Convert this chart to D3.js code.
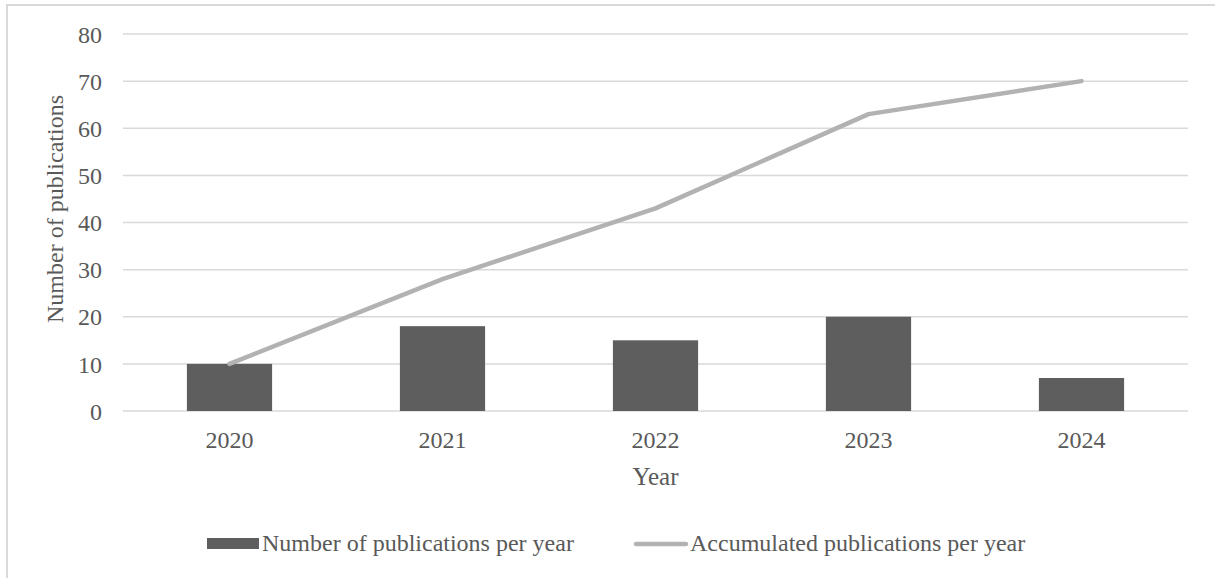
<!DOCTYPE html>
<html>
<head>
<meta charset="utf-8">
<script src="https://cdn.jsdelivr.net/npm/d3@7"></script>
<style>
  html, body { margin: 0; padding: 0; background: #ffffff; }
  svg { display: block; }
</style>
</head>
<body>
<svg id="chart" width="1215" height="578"></svg>
<script>
// ---- data ----
const years = ["2020", "2021", "2022", "2023", "2024"];
const perYear = [10, 18, 15, 20, 7];
const accumulated = [10, 28, 43, 63, 70];
const yTicks = [0, 10, 20, 30, 40, 50, 60, 70, 80];
const seriesNames = ["Number of publications per year", "Accumulated publications per year"];
const yTitle = "Number of publications";
const xTitle = "Year";

// ---- layout ----
const W = 1215, H = 578;
const plot = { left: 123, right: 1188, top: 34, bottom: 411 };
const font = "'Liberation Serif', 'Times New Roman', serif";
const textColor = "#595959";
const gridColor = "#d9d9d9";
const barColor = "#5e5e5e";
const lineColor = "#b2b2b2";

const svg = d3.select("#chart");
svg.append("rect").attr("width", W).attr("height", H).attr("fill", "#fff");

// chart frame (partially out of view)
svg.append("rect")
  .attr("x", 7).attr("y", 5)
  .attr("width", W + 20).attr("height", H + 20)
  .attr("fill", "none").attr("stroke", gridColor).attr("stroke-width", 2);

const x = d3.scaleBand().domain(years).range([plot.left, plot.right]).padding(0);
const y = d3.scaleLinear().domain([0, 80]).range([plot.bottom, plot.top]);

// gridlines
svg.append("g").selectAll("line").data(yTicks).join("line")
  .attr("x1", plot.left).attr("x2", plot.right)
  .attr("y1", d => y(d)).attr("y2", d => y(d))
  .attr("stroke", gridColor).attr("stroke-width", 1.5);

// y axis labels
const yAxis = d3.axisLeft(y).tickValues(yTicks).tickSize(0).tickPadding(0);
const gy = svg.append("g").attr("transform", `translate(${plot.left - 21},0)`).call(yAxis);
gy.select(".domain").remove();
gy.selectAll("text")
  .attr("font-family", font).attr("font-size", 24).attr("fill", textColor)
  .attr("dy", "0.34em");

// x axis labels
const xAxis = d3.axisBottom(x).tickSize(0).tickPadding(0);
const gx = svg.append("g").attr("transform", `translate(0,${plot.bottom})`).call(xAxis);
gx.select(".domain").remove();
gx.selectAll("text")
  .attr("font-family", font).attr("font-size", 24).attr("fill", textColor)
  .attr("dy", null).attr("y", 37);

// bars
const barW = x.bandwidth() * 0.4;
svg.append("g").selectAll("rect").data(years).join("rect")
  .attr("x", d => x(d) + (x.bandwidth() - barW) / 2)
  .attr("width", barW)
  .attr("y", (d, i) => y(perYear[i]))
  .attr("height", (d, i) => y(0) - y(perYear[i]))
  .attr("fill", barColor);

// line
const line = d3.line()
  .x((d, i) => x(years[i]) + x.bandwidth() / 2)
  .y(d => y(d));
svg.append("path").datum(accumulated)
  .attr("d", line)
  .attr("fill", "none").attr("stroke", lineColor)
  .attr("stroke-width", 4.5).attr("stroke-linecap", "round").attr("stroke-linejoin", "round");

// axis titles
svg.append("text")
  .attr("transform", `translate(63,209) rotate(-90)`)
  .attr("text-anchor", "middle")
  .attr("font-family", font).attr("font-size", 24).attr("fill", textColor)
  .text(yTitle);

svg.append("text")
  .attr("x", (plot.left + plot.right) / 2).attr("y", 485)
  .attr("text-anchor", "middle")
  .attr("font-family", font).attr("font-size", 25).attr("fill", textColor)
  .text(xTitle);

// legend
const leg = svg.append("g");
leg.append("rect").attr("x", 207).attr("y", 538).attr("width", 52).attr("height", 11).attr("fill", barColor);
leg.append("text").attr("x", 262).attr("y", 551)
  .attr("font-family", font).attr("font-size", 24).attr("fill", textColor)
  .text(seriesNames[0]);
leg.append("line").attr("x1", 636).attr("x2", 686).attr("y1", 544).attr("y2", 544)
  .attr("stroke", lineColor).attr("stroke-width", 4.5).attr("stroke-linecap", "round");
leg.append("text").attr("x", 690).attr("y", 551)
  .attr("font-family", font).attr("font-size", 24).attr("fill", textColor)
  .text(seriesNames[1]);
</script>
</body>
</html>
